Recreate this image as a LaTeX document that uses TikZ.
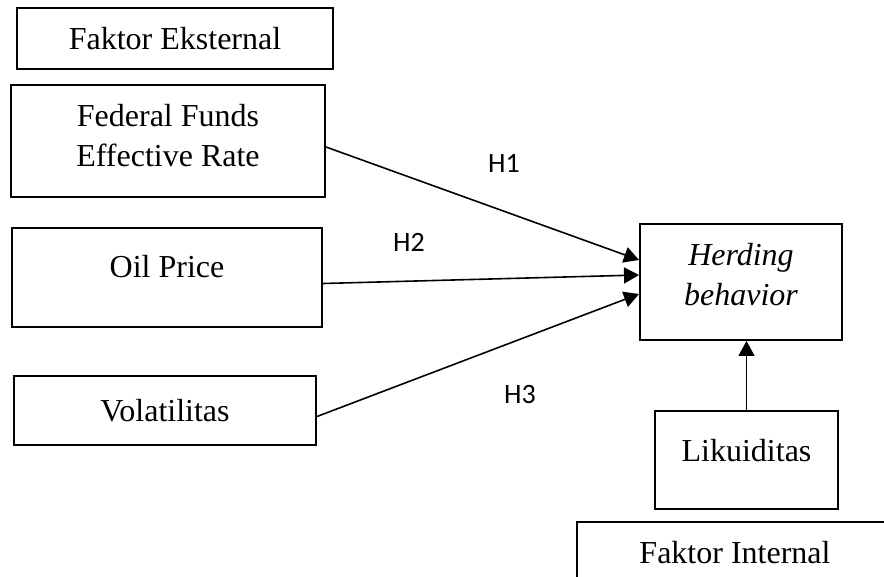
\documentclass[tikz,border=0pt]{standalone}
\usepackage{fontspec}
\setmainfont{Liberation Serif}
\newfontfamily\hypfont{Carlito}
\usepackage{tikz}
\usetikzlibrary{positioning,arrows.meta,calc}

\begin{document}
\begin{tikzpicture}[
    x=0.5pt, y=-0.5pt,
    box/.style={rectangle, draw=black, line width=1pt, inner sep=0pt,
                align=center, font=\fontsize{16}{20}\selectfont},
    lift/.style={text depth=#1},
    arrow/.style={-{Triangle[length=7.5pt, width=8pt]}, line width=0.8pt},
    hyp/.style={font=\hypfont\fontsize{14}{17}\selectfont, inner sep=0pt}
]
\clip (0,0) rectangle (884,577);

% Faktor eksternal
\node[box, minimum width=158pt, minimum height=30.5pt] (ext) at (175,38.5) {Faktor Eksternal};
\node[box, lift=6pt, minimum width=157pt, minimum height=56pt] (ffer) at (168,141) {Federal Funds\\Effective Rate};
\node[box, lift=11pt, minimum width=155pt, minimum height=49.5pt] (oil) at (167,277.5) {Oil Price};
\node[box, minimum width=151pt, minimum height=34.5pt] (vol) at (165,410.5) {Volatilitas};

% Dependent variable
\node[box, lift=8pt, minimum width=101pt, minimum height=58pt] (herd) at (741,282) {\textit{Herding}\\\textit{behavior}};

% Faktor internal
\node[box, lift=10pt, minimum width=91.5pt, minimum height=49pt] (liq) at (746.5,460) {Likuiditas};
\node[box, minimum width=158pt, minimum height=30.5pt] (int) at (735,552.5) {Faktor Internal};

% Arrows
\draw[arrow] ([yshift=-3pt]ffer.east) -- ([yshift=11pt]herd.west);
\draw[arrow] ([yshift=-3pt]oil.east) -- ([yshift=3.5pt]herd.west);
\draw[arrow] ([yshift=-3pt]vol.east) -- ([yshift=-6pt]herd.west);
\draw[arrow] (liq.north) -- (liq.north |- herd.south);

% Hypotheses
\node[hyp] (h1) at (504,163) {H1};
\node[hyp] (h2) at (409,242) {H2};
\node[hyp] (h3) at (520,395) {H3};

\end{tikzpicture}
\end{document}
